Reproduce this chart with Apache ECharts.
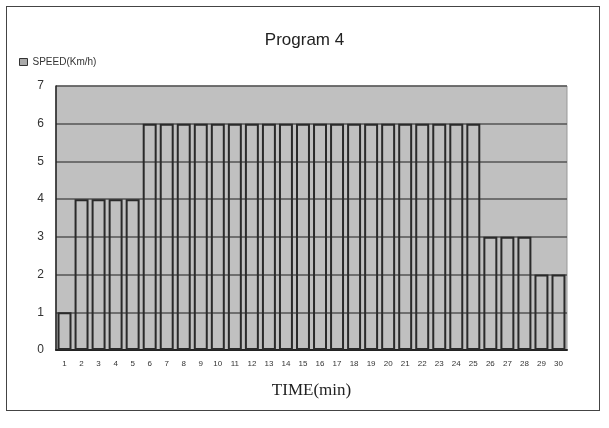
<!DOCTYPE html>
<html><head><meta charset="utf-8">
<script src="https://cdn.jsdelivr.net/npm/echarts@6/dist/echarts.min.js"></script>
<style>
html,body{margin:0;padding:0;background:#fff;}
#frame{position:absolute;left:6px;top:6px;width:594px;height:405px;border:1.5px solid #444;box-sizing:border-box;}
#c{position:absolute;left:0;top:0;width:609px;height:428px;}
</style></head>
<body>
<div id="frame"></div>
<div id="c"></div>
<script>
const categories = ['1','2','3','4','5','6','7','8','9','10','11','12','13','14','15','16','17','18','19','20','21','22','23','24','25','26','27','28','29','30'];
const speed = [1,4,4,4,4,6,6,6,6,6,6,6,6,6,6,6,6,6,6,6,6,6,6,6,6,3,3,3,2,2];
const yTicks = [0,1,2,3,4,5,6,7];

const chart = echarts.init(document.getElementById('c'), null, {renderer:'canvas'});
chart.setOption({
  animation:false,
  title:{text:'Program 4', left:'center', top:27, textStyle:{fontFamily:'Liberation Sans, Arial', fontSize:17, fontWeight:'normal', color:'#222'}},
  legend:{left:14, top:52, itemWidth:8, itemHeight:7, icon:'rect', itemGap:4,
    textStyle:{fontFamily:'Liberation Sans, Arial', fontSize:10, color:'#333'},
    data:[{name:'SPEED(Km/h)', itemStyle:{color:'#aaa', borderColor:'#333', borderWidth:1}}]},
  grid:{left:56, right:42, top:86, bottom:78, show:true, backgroundColor:'#c0c0c0', borderColor:'#999', borderWidth:1},
  xAxis:{type:'category', data:categories,
    name:'TIME(min)', nameLocation:'middle', nameGap:32,
    nameTextStyle:{fontFamily:'Liberation Serif, Times New Roman', fontSize:17, color:'#222'},
    axisTick:{show:false},
    axisLine:{lineStyle:{color:'#222', width:2}},
    axisLabel:{fontFamily:'Liberation Sans, Arial', fontSize:8, color:'#333', margin:10, interval:0}},
  yAxis:{type:'value', min:yTicks[0], max:yTicks[yTicks.length-1], interval:1,
    axisLine:{show:true, lineStyle:{color:'#222', width:1.5}},
    axisTick:{show:false},
    axisLabel:{fontFamily:'Liberation Sans, Arial', fontSize:12, color:'#333', margin:12},
    splitLine:{show:true, lineStyle:{color:'#555', width:1.5}}},
  series:[{name:'SPEED(Km/h)', type:'bar', data:speed, barCategoryGap:'18%',
    itemStyle:{color:'rgba(192,192,192,0)', borderColor:'#2a2a2a', borderWidth:2}}]
});
</script>
</body></html>
